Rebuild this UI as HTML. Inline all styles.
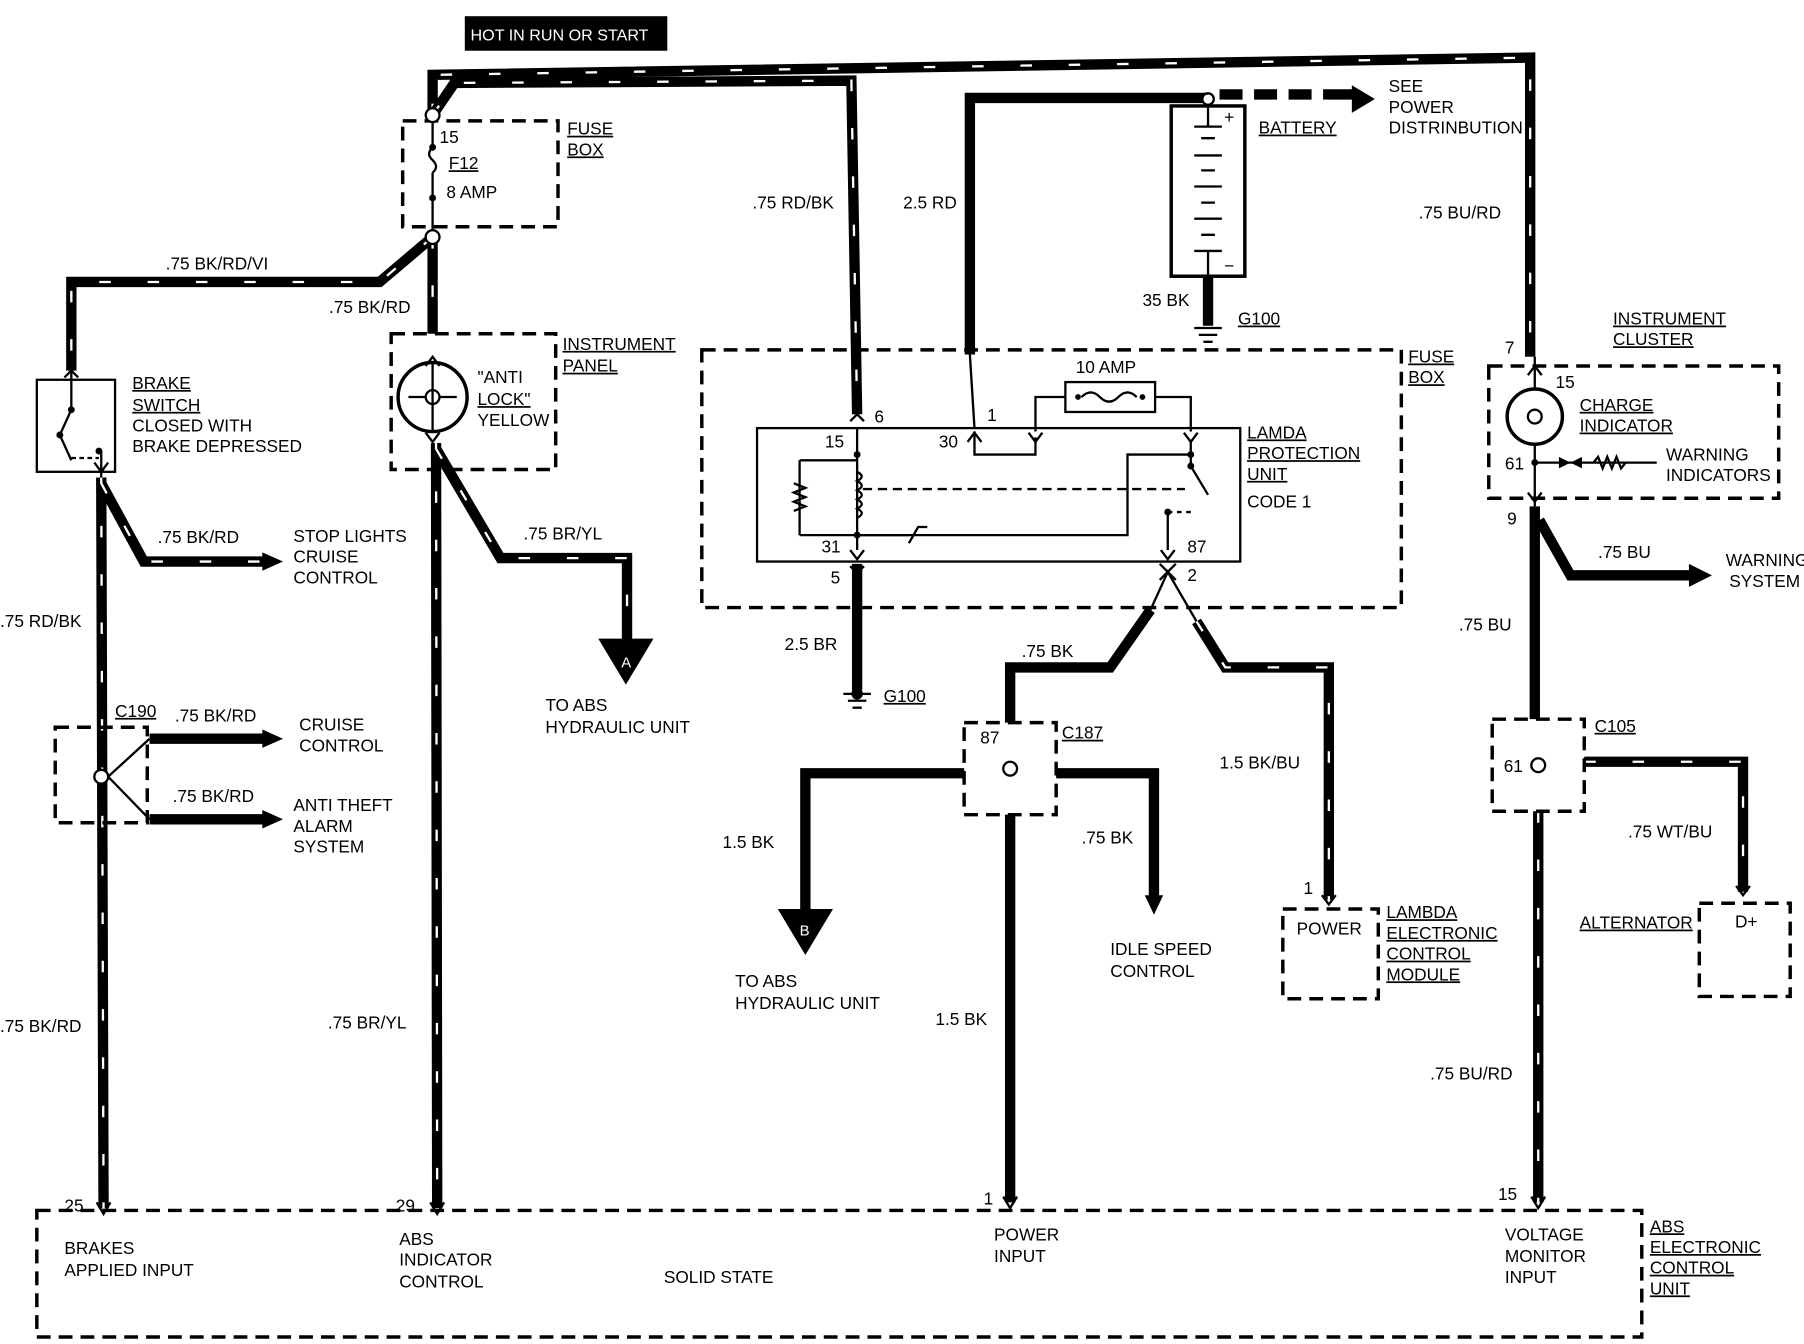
<!DOCTYPE html>
<html><head><meta charset="utf-8"><style>
html,body{margin:0;padding:0;background:#fff}
svg{display:block}
text{font-family:"Liberation Sans",sans-serif;font-size:15px;fill:#000;letter-spacing:0}
.s{fill:none;stroke:#000;stroke-width:9;stroke-linejoin:miter}
.st{fill:none;stroke:#fff;stroke-width:2;stroke-dasharray:10 32}
.t{fill:none;stroke:#000;stroke-width:2}
.d{fill:none;stroke:#000;stroke-width:3;stroke-dasharray:12 7}
.u{text-decoration:underline}
</style></head><body>
<svg width="1804" height="1344" viewBox="0 0 1568 1168" xmlns="http://www.w3.org/2000/svg">
<rect x="404" y="14" width="176" height="30" fill="#000"/>
<text x="409" y="35" style="fill:#fff;font-size:14px">HOT IN RUN OR START</text>

<g>
<path class="s" d="M376,100 L376,65 L1330,50 L1330,310"/>
<path class="st" d="M376,100 L376,65 L1330,50 L1330,310"/>
<path class="s" d="M376,100 L395,72 L740,70 L745,360"/>
<path class="st" d="M376,100 L395,72 L740,70 L745,360"/>
<path class="s" d="M376,206 L376,290"/>
<path class="st" d="M376,206 L376,290"/>
<path class="s" d="M376,206 L330,245 L62,245 L62,322"/>
<path class="st" d="M376,206 L330,245 L62,245 L62,322"/>
<path class="s" d="M379,385 L380,1050"/>
<path class="st" d="M379,385 L380,1050"/>
<path class="s" d="M379,390 L435,485 L545,485 L545,556"/>
<path class="st" d="M379,390 L435,485 L545,485 L545,556"/>
<path class="s" d="M88,415 L90,1050"/>
<path class="st" d="M88,415 L90,1050"/>
<path class="s" d="M88,420 L125,488 L230,488"/>
<path class="st" d="M88,420 L125,488 L230,488"/>
<path class="s" d="M130,642 L232,642"/>
<path class="s" d="M130,712 L232,712"/>
<path class="s" d="M1040,540 L1065,580 L1155,580 L1155,782"/>
<path class="st" d="M1040,540 L1065,580 L1155,580 L1155,782"/>
<path class="s" d="M1337,705 L1337,1045"/>
<path class="st" d="M1337,705 L1337,1045"/>
<path class="s" d="M1377,662 L1515,662 L1515,775"/>
<path class="st" d="M1377,662 L1515,662 L1515,775"/>
</g>
<path d="M228,480 L246,488 L228,496z"/>
<path d="M228,634 L246,642 L228,650z"/>
<path d="M228,704 L246,712 L228,720z"/>
<path d="M520,555 L568,555 L544,595z"/><text x="540" y="580" style="fill:#fff;font-size:13px">A</text>

<path class="s" d="M1050,85 L843,85 L843,308"/>
<path class="t" d="M843,308 L847,372"/>
<path d="M1060,82 L1080,82 M1090,82 L1110,82 M1120,82 L1140,82 M1150,82 L1178,82" stroke="#000" stroke-width="9"/>
<path d="M1175,74 L1195,86 L1175,98z"/>
<path class="s" d="M1050,240 L1050,283"/>
<path class="s" d="M745,490 L745,600"/>
<path class="s" d="M1000,530 L965,580 L878,580 L878,628"/>
<path class="s" d="M878,708 L878,1045"/>
<path class="s" d="M838,672 L700,672 L700,792"/>
<path d="M676,790 L724,790 L700,830z"/><text x="695" y="813" style="fill:#fff;font-size:13px">B</text>
<path class="s" d="M918,672 L1003,672 L1003,780"/>
<path d="M995,778 L1003,795 L1011,778z"/>
<path class="s" d="M1334,440 L1334,625"/>
<path class="s" d="M1338,452 L1365,500 L1470,500"/>
<path d="M1468,490 L1488,500 L1468,510z"/>

<rect class="d" x="350" y="105" width="135" height="92"/>
<circle cx="376" cy="100" r="6" fill="#fff" stroke="#000" stroke-width="2"/>
<circle cx="376" cy="206" r="6" fill="#fff" stroke="#000" stroke-width="2"/>
<path class="t" d="M376,106 L376,128 M376,150 L376,200"/>
<path class="t" d="M376,128 q-6,6 0,11 q6,6 0,11"/>
<circle cx="376" cy="128" r="3"/><circle cx="376" cy="172" r="3"/>
<text x="382" y="124">15</text>
<text x="390" y="147" class="u">F12</text>
<text x="388" y="172">8 AMP</text>
<text x="493" y="117" class="u">FUSE</text><text x="493" y="135" class="u">BOX</text>

<rect class="d" x="340" y="290" width="143" height="118"/>
<circle cx="376" cy="345" r="30" fill="#fff" stroke="#000" stroke-width="3"/>
<circle cx="376" cy="345" r="6" fill="none" stroke="#000" stroke-width="2"/>
<path class="t" d="M376,315 L376,375 M370,345 L355,345 M382,345 L397,345"/>
<path d="M370,318 L376,310 L382,318 M370,376 L376,384 L382,376" class="t"/>
<text x="415" y="333">"ANTI</text><text x="415" y="352" class="u">LOCK"</text><text x="415" y="370">YELLOW</text>
<text x="489" y="304" class="u">INSTRUMENT</text><text x="489" y="323" class="u">PANEL</text>

<rect x="32" y="330" width="68" height="80" fill="#fff" stroke="#000" stroke-width="2"/>
<path class="t" d="M62,322 L62,356 M62,356 L52,378 M52,378 L62,400 M88,392 L88,415"/>
<circle cx="62" cy="356" r="3"/><circle cx="52" cy="378" r="3"/><circle cx="86" cy="392" r="3"/>
<path d="M62,398 L86,398" class="t" stroke-dasharray="4 3"/>
<path class="t" d="M56,328 L62,322 L68,328 M82,402 L88,410 L94,402"/>
<text x="115" y="338" class="u">BRAKE</text><text x="115" y="357" class="u">SWITCH</text>
<text x="115" y="375">CLOSED WITH</text><text x="115" y="393">BRAKE DEPRESSED</text>
<text x="137" y="472">.75 BK/RD</text>
<text x="255" y="471">STOP LIGHTS</text><text x="255" y="489">CRUISE</text><text x="255" y="507">CONTROL</text>
<text x="0" y="545">.75 RD/BK</text>
<text x="0" y="897">.75 BK/RD</text>
<text x="144" y="234">.75 BK/RD/VI</text>
<text x="286" y="272">.75 BK/RD</text>

<rect class="d" x="48" y="632" width="80" height="83"/>
<circle cx="88" cy="675" r="6" fill="#fff" stroke="#000" stroke-width="2"/>
<path class="t" d="M94,675 L130,642 M94,675 L130,712"/>
<text x="100" y="623" class="u">C190</text>
<text x="152" y="627">.75 BK/RD</text>
<text x="150" y="697">.75 BK/RD</text>
<text x="260" y="635">CRUISE</text><text x="260" y="653">CONTROL</text>
<text x="255" y="705">ANTI THEFT</text><text x="255" y="723">ALARM</text><text x="255" y="741">SYSTEM</text>

<text x="455" y="469">.75 BR/YL</text>
<text x="474" y="618">TO ABS</text><text x="474" y="637">HYDRAULIC UNIT</text>
<text x="285" y="894">.75 BR/YL</text>
<text x="654" y="181">.75 RD/BK</text>
<text x="785" y="181">2.5 RD</text>

<rect x="1018" y="92" width="64" height="148" fill="#fff" stroke="#000" stroke-width="3"/>
<circle cx="1050" cy="86" r="5" fill="#fff" stroke="#000" stroke-width="2"/>
<path class="t" d="M1050,92 L1050,110 M1038,110 L1062,110 M1044,120 L1056,120 M1038,135 L1062,135 M1044,148 L1056,148 M1038,162 L1062,162 M1044,176 L1056,176 M1038,190 L1062,190 M1044,204 L1056,204 M1038,218 L1062,218 M1050,218 L1050,240"/>
<text x="1064" y="107">+</text><text x="1064" y="236">−</text>
<text x="1094" y="116" class="u">BATTERY</text>
<text x="1207" y="80">SEE</text><text x="1207" y="98">POWER</text><text x="1207" y="116">DISTRINBUTION</text>
<path class="t" d="M1038,285 L1062,285 M1042,291 L1058,291 M1046,297 L1054,297"/>
<text x="993" y="266">35 BK</text><text x="1076" y="282" class="u">G100</text>

<rect class="d" x="610" y="304" width="608" height="224"/>
<text x="1224" y="315" class="u">FUSE</text><text x="1224" y="333" class="u">BOX</text>
<rect x="658" y="372" width="420" height="116" fill="none" stroke="#000" stroke-width="2"/>
<rect x="926" y="332" width="78" height="26" fill="none" stroke="#000" stroke-width="2"/>
<path class="t" d="M940,345 q8,-8 16,0 q8,8 16,0 q8,-8 16,0"/>
<circle cx="937" cy="345" r="2.5"/><circle cx="993" cy="345" r="2.5"/>
<text x="935" y="324">10 AMP</text>
<path class="t" d="M926,345 L900,345 L900,375 M1004,345 L1035,345 L1035,375 M847,375 L847,395 L900,395 L900,380 M1035,382 L1035,405 L1050,430 M1015,445 L1015,478 M745,372 L745,405 L745,465 L745,478 M695,400 L745,400 M695,465 L980,465 L980,395 L1035,395"/>
<path class="t" d="M695,400 L695,465"/>
<path class="t" d="M690,420 l10,4 -10,4 10,4 -10,4 10,4 -10,4"/>
<path class="t" d="M745,410 q8,4 0,8 q8,4 0,8 q8,4 0,8 q8,4 0,8 q8,4 0,8"/>
<path class="t" d="M750,425 L1030,425" stroke-dasharray="8 5"/>
<path class="t" d="M1015,445 L1035,445" stroke-dasharray="4 4"/>
<path class="t" d="M745,465 L790,465 M790,472 L798,458 L806,458"/>
<circle cx="745" cy="395" r="3"/><circle cx="745" cy="465" r="3"/><circle cx="1035" cy="395" r="3"/><circle cx="1035" cy="405" r="3"/><circle cx="1015" cy="445" r="3"/>
<path class="t" d="M739,366 L745,360 L751,366 M841,384 L847,376 L853,384 M894,376 L900,384 L906,376 M1029,376 L1035,384 L1041,376 M739,478 L745,486 L751,478 M739,492 L745,498 L751,492 M1009,478 L1015,486 L1021,478 M1008,490 L1022,504 M1022,490 L1008,504"/>
<text x="717" y="389">15</text><text x="760" y="367">6</text><text x="816" y="389">30</text><text x="858" y="366">1</text>
<text x="714" y="480">31</text><text x="722" y="507">5</text><text x="1032" y="480">87</text><text x="1032" y="505">2</text>
<text x="1084" y="381" class="u">LAMDA</text><text x="1084" y="399" class="u">PROTECTION</text><text x="1084" y="417" class="u">UNIT</text><text x="1084" y="441">CODE 1</text>
<path class="t" d="M1000,530 L1015,497 L1040,540"/>

<text x="682" y="565">2.5 BR</text>
<path class="t" d="M733,603 L757,603 M737,609 L753,609 M741,615 L749,615"/>
<circle cx="745" cy="603" r="5"/>
<text x="768" y="610" class="u">G100</text>
<text x="888" y="571">.75 BK</text>

<rect class="d" x="838" y="628" width="80" height="80"/>
<circle cx="878" cy="668" r="6" fill="#fff" stroke="#000" stroke-width="2"/>
<text x="852" y="646">87</text><text x="923" y="642" class="u">C187</text>
<text x="628" y="737">1.5 BK</text>
<text x="940" y="733">.75 BK</text>
<text x="639" y="858">TO ABS</text><text x="639" y="877">HYDRAULIC UNIT</text>
<text x="965" y="830">IDLE SPEED</text><text x="965" y="849">CONTROL</text>
<text x="813" y="891">1.5 BK</text>
<text x="1060" y="668">1.5 BK/BU</text>
<path class="t" d="M1149,778 L1155,786 L1161,778"/>
<rect class="d" x="1115" y="790" width="83" height="78"/>
<text x="1133" y="777">1</text><text x="1127" y="812">POWER</text>
<text x="1205" y="798" class="u">LAMBDA</text><text x="1205" y="816" class="u">ELECTRONIC</text><text x="1205" y="834" class="u">CONTROL</text><text x="1205" y="852" class="u">MODULE</text>

<rect class="d" x="1294" y="318" width="252" height="115"/>
<circle cx="1334" cy="362" r="24" fill="#fff" stroke="#000" stroke-width="3"/>
<circle cx="1334" cy="362" r="6" fill="none" stroke="#000" stroke-width="2"/>
<path class="t" d="M1334,310 L1334,338 M1334,386 L1334,440 M1328,326 L1334,318 L1340,326 M1328,428 L1334,436 L1340,428 M1334,402 L1440,402"/>
<circle cx="1334" cy="402" r="3"/>
<path d="M1355,397 L1365,402 L1355,407z M1375,397 L1365,402 L1375,407z"/>
<path class="t" d="M1385,402 l4,-5 4,10 4,-10 4,10 4,-10 4,10 4,-5"/>
<text x="1308" y="307">7</text><text x="1352" y="337">15</text><text x="1308" y="408">61</text><text x="1310" y="456">9</text>
<text x="1373" y="357" class="u">CHARGE</text><text x="1373" y="375" class="u">INDICATOR</text>
<text x="1448" y="400">WARNING</text><text x="1448" y="418">INDICATORS</text>
<text x="1402" y="282" class="u">INSTRUMENT</text><text x="1402" y="300" class="u">CLUSTER</text>
<text x="1233" y="190">.75 BU/RD</text>
<text x="1389" y="485">.75 BU</text>
<text x="1500" y="492">WARNING</text><text x="1503" y="510">SYSTEM</text>
<text x="1268" y="548">.75 BU</text>

<rect class="d" x="1297" y="625" width="80" height="80"/>
<circle cx="1337" cy="665" r="6" fill="#fff" stroke="#000" stroke-width="2"/>
<text x="1307" y="671">61</text><text x="1386" y="636" class="u">C105</text>
<text x="1415" y="728">.75 WT/BU</text>
<path class="t" d="M1509,770 L1515,778 L1521,770"/>
<rect class="d" x="1477" y="785" width="79" height="81"/>
<text x="1508" y="806">D+</text>
<text x="1373" y="807" class="u">ALTERNATOR</text>
<text x="1243" y="938">.75 BU/RD</text>

<rect class="d" x="32" y="1052" width="1395" height="110"/>
<path class="t" d="M84,1045 L90,1055 L96,1045 M374,1045 L380,1055 L386,1045 M872,1040 L878,1050 L884,1040 M1331,1040 L1337,1050 L1343,1040"/>
<text x="56" y="1053">25</text><text x="344" y="1053">29</text><text x="855" y="1047">1</text><text x="1302" y="1043">15</text>
<text x="56" y="1090">BRAKES</text><text x="56" y="1109">APPLIED INPUT</text>
<text x="347" y="1082">ABS</text><text x="347" y="1100">INDICATOR</text><text x="347" y="1119">CONTROL</text>
<text x="577" y="1115">SOLID STATE</text>
<text x="864" y="1078">POWER</text><text x="864" y="1097">INPUT</text>
<text x="1308" y="1078">VOLTAGE</text><text x="1308" y="1097">MONITOR</text><text x="1308" y="1115">INPUT</text>
<text x="1434" y="1071" class="u">ABS</text><text x="1434" y="1089" class="u">ELECTRONIC</text><text x="1434" y="1107" class="u">CONTROL</text><text x="1434" y="1125" class="u">UNIT</text>
</svg>
</body></html>
